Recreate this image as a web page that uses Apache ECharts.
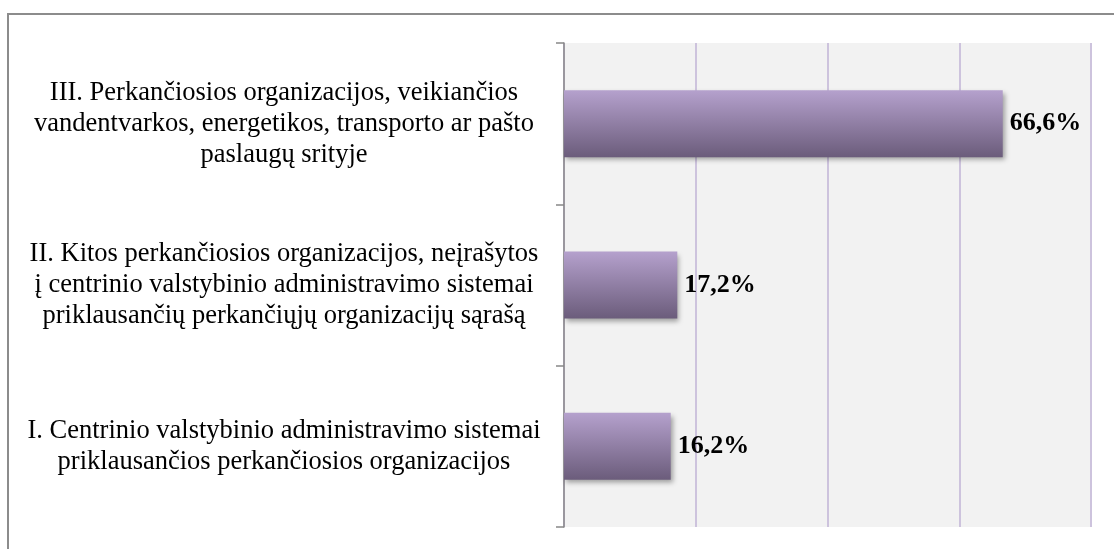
<!DOCTYPE html>
<html>
<head>
<meta charset="utf-8">
<script src="https://cdn.jsdelivr.net/npm/echarts@6/dist/echarts.min.js"></script>
<style>
  html, body { margin: 0; padding: 0; background: #fff; overflow: hidden; }
  #frame { position: absolute; left: 7px; top: 13px; width: 1200px; height: 600px; border: 2px solid #8c8c8c; }
  #chart { position: absolute; left: 0; top: 0; width: 1114px; height: 549px; }
</style>
</head>
<body>
<div id="frame"></div>
<div id="chart"></div>
<script>
// kategorijos nuo apačios į viršų
const categories = [
  'I. Centrinio valstybinio administravimo sistemai\npriklausančios perkančiosios organizacijos',
  'II. Kitos perkančiosios organizacijos, neįrašytos\nį centrinio valstybinio administravimo sistemai\npriklausančių perkančiųjų organizacijų sąrašą',
  'III. Perkančiosios organizacijos, veikiančios\nvandentvarkos, energetikos, transporto ar pašto\npaslaugų srityje'
];
const values = [16.2, 17.2, 66.6];
const axisMax = 80;
const axisStep = 20;

const chart = echarts.init(document.getElementById('chart'));
chart.setOption({
  animation: false,
  grid: {
    left: 564, right: 23, top: 43, bottom: 22,
    show: true, backgroundColor: '#f2f2f2', borderWidth: 0
  },
  xAxis: {
    type: 'value',
    min: 0, max: axisMax, interval: axisStep,
    axisLabel: { show: false },
    axisLine: { show: false },
    axisTick: { show: false },
    splitLine: { lineStyle: { color: '#cdc3dd', width: 2 } }
  },
  yAxis: {
    type: 'category',
    data: categories,
    axisLine: { lineStyle: { color: '#888888', width: 1.5 } },
    axisTick: { show: true, length: 8, lineStyle: { color: '#888888', width: 1.5 } },
    axisLabel: {
      margin: 280,
      align: 'center',
      color: '#000',
      fontFamily: 'Liberation Serif',
      fontSize: 26.5,
      lineHeight: 31,
      padding: [8, 0, 0, 0]
    }
  },
  series: [{
    type: 'bar',
    data: values,
    barWidth: 67,
    itemStyle: {
      color: new echarts.graphic.LinearGradient(0, 0, 0, 1, [
        { offset: 0, color: '#b5a1cd' },
        { offset: 1, color: '#6b5c7b' }
      ]),
      shadowColor: 'rgba(0,0,0,0.35)',
      shadowBlur: 5,
      shadowOffsetX: 2,
      shadowOffsetY: 3
    },
    label: {
      show: true,
      position: 'right',
      distance: 7,
      color: '#000',
      fontFamily: 'Liberation Serif',
      fontWeight: 'bold',
      fontSize: 26,
      formatter: p => p.value.toFixed(1).replace('.', ',') + '%'
    }
  }]
});
</script>
</body>
</html>
